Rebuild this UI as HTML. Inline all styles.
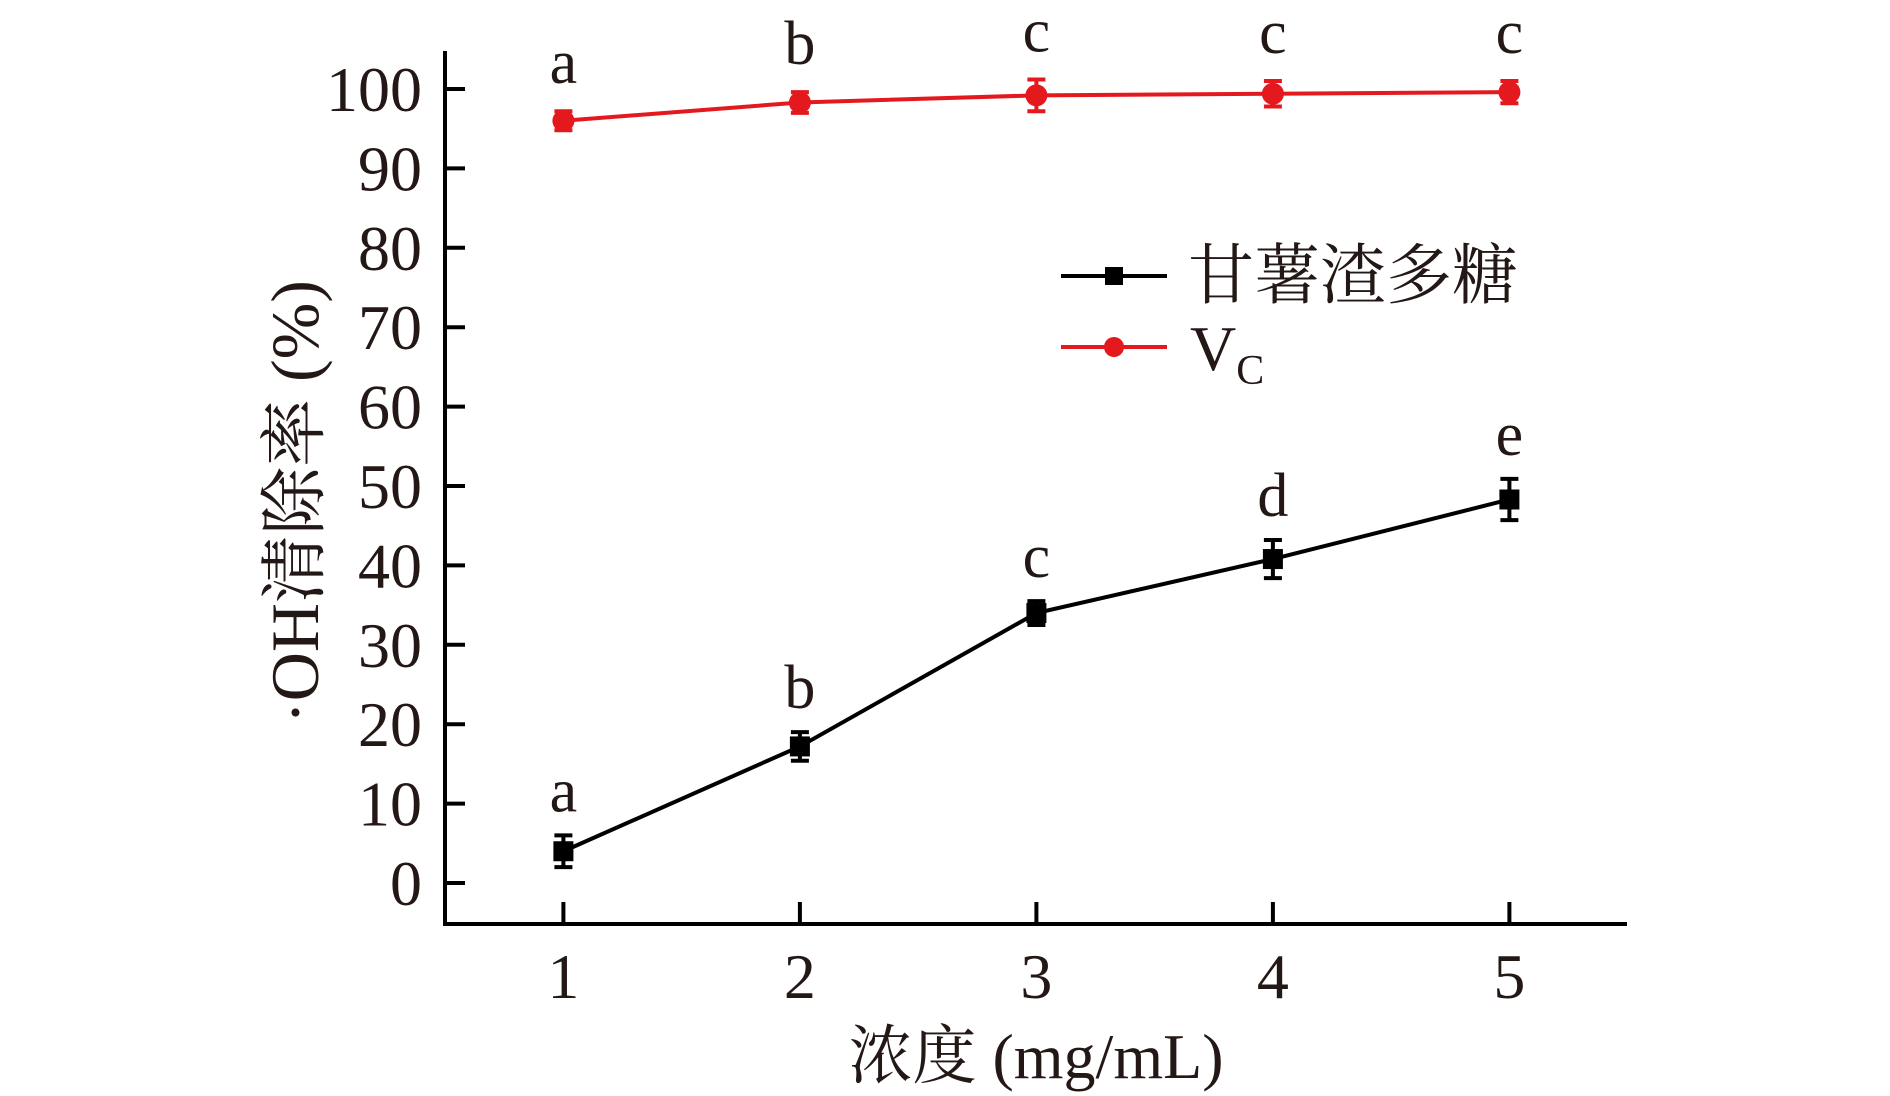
<!DOCTYPE html>
<html><head><meta charset="utf-8">
<style>
html,body{margin:0;padding:0;background:#fff;}
svg{display:block;}
text{font-family:"Liberation Serif","Noto Serif CJK SC",serif;fill:#231815;}
</style></head>
<body>
<svg id="chart" width="1890" height="1096" viewBox="0 0 1890 1096" xmlns="http://www.w3.org/2000/svg">
<g id="axes"></g>
<g id="series"></g>
<g>
  <line x1="1061" y1="276" x2="1167" y2="276" stroke="#000" stroke-width="4"/>
  <rect x="1105" y="267" width="18" height="18" fill="#000"/>
  <text x="1188" y="298" font-size="66">甘薯渣多糖</text>
  <line x1="1061" y1="347" x2="1167" y2="347" stroke="#e4191e" stroke-width="4"/>
  <circle cx="1114" cy="347" r="10" fill="#e4191e"/>
  <text x="1190" y="370" font-size="64">V<tspan font-size="42" dy="14">C</tspan></text>
</g>
<text transform="translate(318,502) rotate(-90)" text-anchor="middle" font-size="68">·OH清除率 (%)</text>
<text x="1036" y="1078" text-anchor="middle" font-size="64">浓度 (mg/mL)</text>
</svg>
<script>
const categories = [1, 2, 3, 4, 5];
const polyValues = [4.0, 17.2, 34.0, 40.8, 48.3];
const polyErrors = [2.0, 1.8, 1.5, 2.4, 2.6];
const polyLetters = ["a", "b", "c", "d", "e"];
const vcValues = [96.0, 98.3, 99.2, 99.4, 99.6];
const vcErrors = [1.2, 1.3, 2.0, 1.6, 1.4];
const vcLetters = ["a", "b", "c", "c", "c"];
const yTicks = [0, 10, 20, 30, 40, 50, 60, 70, 80, 90, 100];

const NS = "http://www.w3.org/2000/svg";
const xScale = v => 563.4 + (v - 1) * 236.5;
const yScale = v => 883 - v * 7.94;
function mk(tag, attrs, parent) {
  const e = document.createElementNS(NS, tag);
  for (const k in attrs) e.setAttribute(k, attrs[k]);
  parent.appendChild(e);
  return e;
}
const axes = document.getElementById("axes");
const yAxis = mk("line", {x1: 445, y1: 51, x2: 445, y2: 926, stroke: "#000", "stroke-width": 4}, axes);


const xAxis = mk("line", {x1: 443, y1: 924, x2: 1627, y2: 924, stroke: "#000", "stroke-width": 4}, axes);


yTicks.forEach(t => {
  const y = yScale(t);
  const tk = mk("line", {x1: 445, y1: y, x2: 465, y2: y, stroke: "#000", "stroke-width": 4}, axes);
  
  
  const lb = mk("text", {x: 422, y: y + 22, "text-anchor": "end", "font-size": 64}, axes);
  lb.textContent = t;
  
  
});
categories.forEach(c => {
  const x = xScale(c);
  const tk = mk("line", {x1: x, y1: 924, x2: x, y2: 902, stroke: "#000", "stroke-width": 4}, axes);
  
  
  const lb = mk("text", {x: x, y: 998, "text-anchor": "middle", "font-size": 64}, axes);
  lb.textContent = c;
  
  
});
const series = document.getElementById("series");
function drawSeries(vals, errs, letters, color, shape, name, gap) {
  const pts = categories.map((c, i) => xScale(c) + "," + yScale(vals[i])).join(" ");
  const pl = mk("polyline", {points: pts, fill: "none", stroke: color, "stroke-width": 4}, series);
  
  
  categories.forEach((c, i) => {
    const x = xScale(c), y = yScale(vals[i]);
    const yt = yScale(vals[i] + errs[i]), yb = yScale(vals[i] - errs[i]);
    const eb = mk("path", {d: `M${x},${yt}V${yb}M${x-9},${yt}H${x+9}M${x-9},${yb}H${x+9}`, stroke: color, "stroke-width": 4, fill: "none"}, series);
    
    
    let m;
    if (shape === "square") m = mk("rect", {x: x - 10, y: y - 10, width: 20, height: 20, fill: color}, series);
    else m = mk("circle", {cx: x, cy: y, r: 11, fill: color}, series);
    
    
    const lt = mk("text", {x: x, y: yt - gap, "text-anchor": "middle", "font-size": 62}, series);
    lt.textContent = letters[i];
    
    
  });
}
drawSeries(polyValues, polyErrors, polyLetters, "#000", "square", "polysaccharide", 24);
drawSeries(vcValues, vcErrors, vcLetters, "#e4191e", "circle", "vc", 28);
</script>
</body></html>
